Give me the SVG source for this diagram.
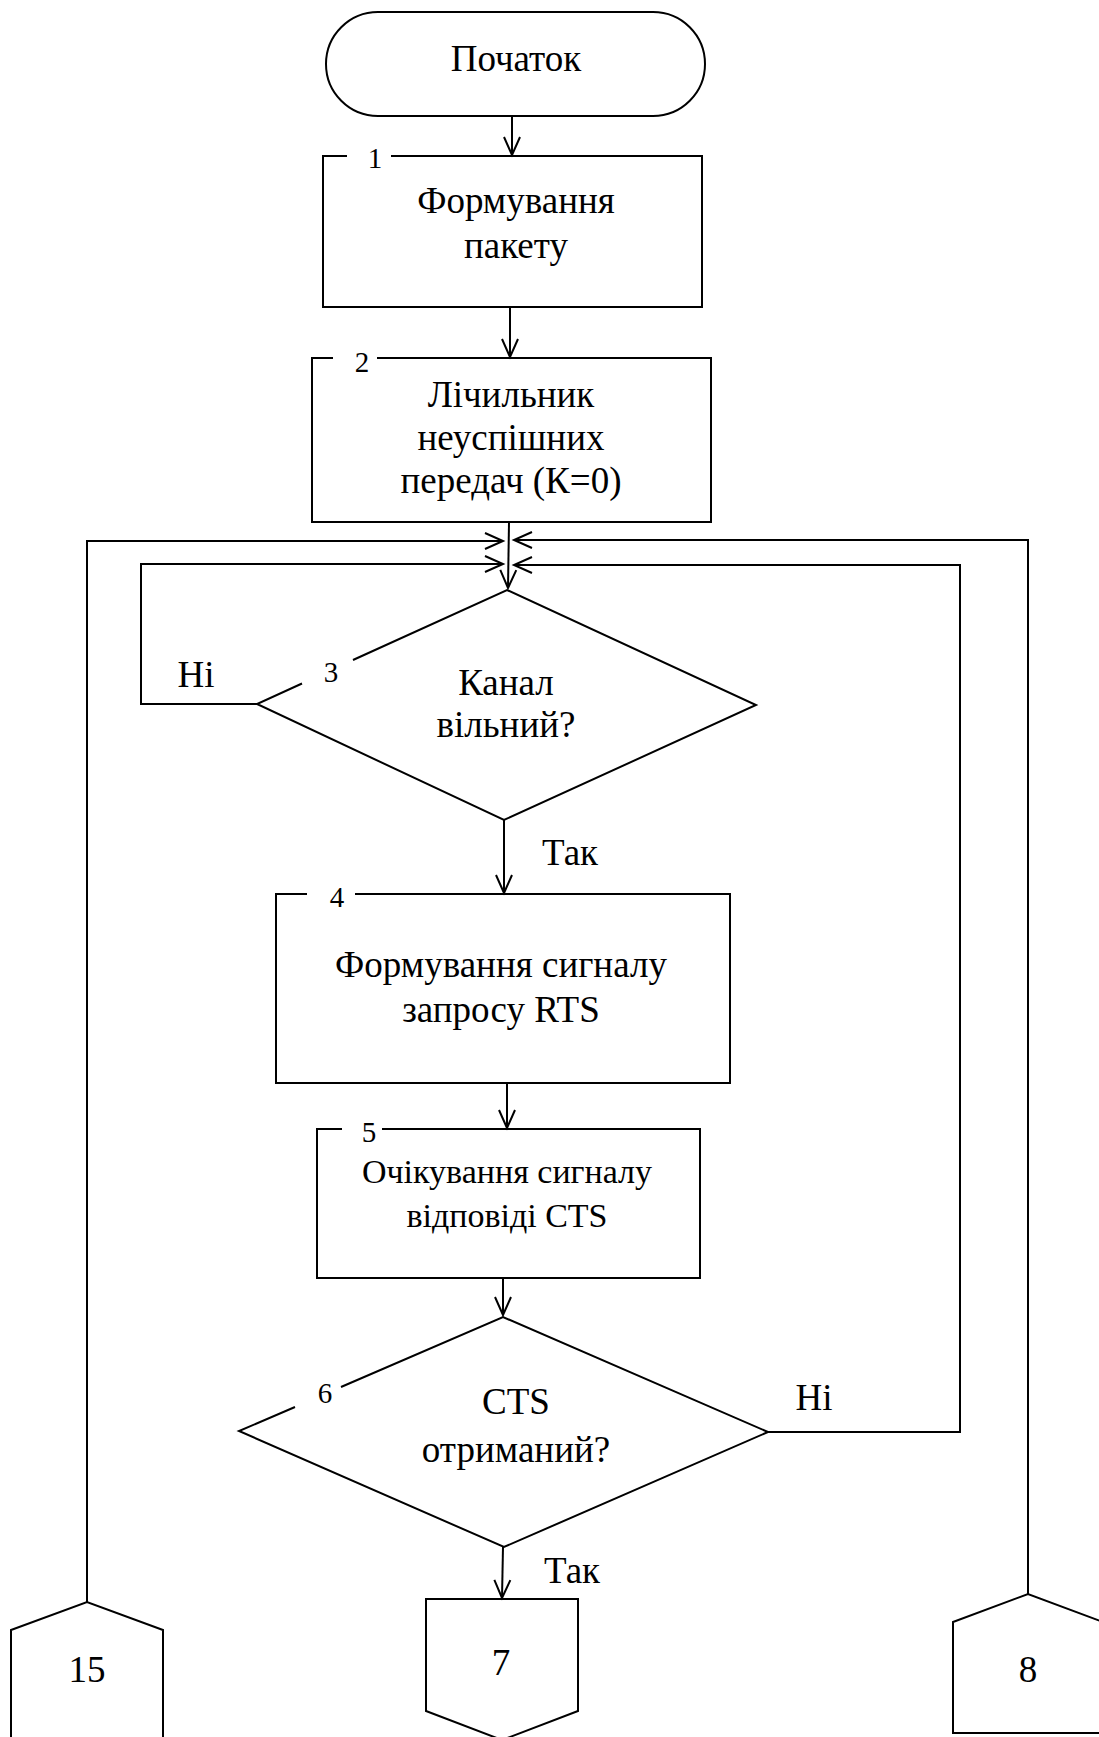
<svg xmlns="http://www.w3.org/2000/svg" width="1099" height="1737" viewBox="0 0 1099 1737">
<style>
.s{fill:none;stroke:#000;stroke-width:2;stroke-linejoin:miter}
.c{fill:none;stroke:#000;stroke-width:2}
.t{font-family:"Liberation Serif","Times New Roman",serif;font-size:37px;fill:#000;text-anchor:middle}
.t5{font-family:"Liberation Serif","Times New Roman",serif;font-size:34px;fill:#000;text-anchor:middle}
.n{font-family:"Liberation Serif","Times New Roman",serif;font-size:29px;fill:#000;text-anchor:middle}
</style>
<defs>
<marker id="a" viewBox="-20 -10 22 20" refX="0" refY="0" markerWidth="22" markerHeight="20" markerUnits="userSpaceOnUse" orient="auto" overflow="visible">
<path d="M-18,-8 L0,0 L-18,8" fill="none" stroke="#000" stroke-width="2"/>
</marker>
</defs>
<rect width="1099" height="1737" fill="#fff"/>

<g id="start">
<rect class="s" x="326" y="12" width="379" height="104" rx="52" ry="52"/>
<text class="t" x="516" y="71">Початок</text>
</g>

<g id="n1">
<path class="s" d="M347,156 L323,156 L323,307 L702,307 L702,156 L391,156"/>
<text class="n" x="375" y="168">1</text>
<text class="t" x="516" y="213">Формування</text>
<text class="t" x="516" y="258">пакету</text>
</g>

<g id="n2">
<path class="s" d="M333,358 L312,358 L312,522 L711,522 L711,358 L377,358"/>
<text class="n" x="362" y="372">2</text>
<text class="t" x="511" y="407">Лічильник</text>
<text class="t" x="511" y="450">неуспішних</text>
<text class="t" x="511" y="493">передач (К=0)</text>
</g>

<g id="n3">
<path class="s" d="M353,660 L507,590 L756,705 L504,820 L257,704 L302,683.5"/>
<text class="n" x="331" y="682">3</text>
<text class="t" x="506" y="695">Канал</text>
<text class="t" x="506" y="737">вільний?</text>
</g>

<g id="n4">
<path class="s" d="M307,894 L276,894 L276,1083 L730,1083 L730,894 L355,894"/>
<text class="n" x="337" y="907">4</text>
<text class="t" x="501" y="977">Формування сигналу</text>
<text class="t" x="501" y="1022">запросу RTS</text>
</g>

<g id="n5">
<path class="s" d="M342,1129 L317,1129 L317,1278 L700,1278 L700,1129 L382,1129"/>
<text class="n" x="369" y="1142">5</text>
<text class="t5" x="507" y="1183">Очікування сигналу</text>
<text class="t5" x="507" y="1227">відповіді CTS</text>
</g>

<g id="n6">
<path class="s" d="M341,1387 L503,1317 L768,1432 L504,1547 L239,1431 L295,1407"/>
<text class="n" x="325" y="1403">6</text>
<text class="t" x="516" y="1414">CTS</text>
<text class="t" x="516" y="1462">отриманий?</text>
</g>

<g id="n7">
<path class="s" d="M426,1599 L578,1599 L578,1711 L502,1740 L426,1711 Z"/>
<text class="t" x="501" y="1675">7</text>
</g>

<g id="n15">
<path class="s" d="M11,1745 L11,1630 L87,1602 L163,1630 L163,1745"/>
<text class="t" x="87" y="1682">15</text>
</g>

<g id="n8">
<path class="s" d="M953,1733 L953,1622 L1028,1594 L1103,1622 L1103,1733 Z"/>
<text class="t" x="1028" y="1682">8</text>
</g>

<g id="connectors">
<line class="c" x1="512" y1="116" x2="512" y2="155" marker-end="url(#a)"/>
<line class="c" x1="510" y1="307" x2="510" y2="357" marker-end="url(#a)"/>
<line class="c" x1="509" y1="522" x2="508" y2="588" marker-end="url(#a)"/>
<polyline class="c" points="87,1602 87,541 503,541" marker-end="url(#a)"/>
<polyline class="c" points="257,704 141,704 141,564 503,564" marker-end="url(#a)"/>
<polyline class="c" points="1028,1594 1028,540 514,540" marker-end="url(#a)"/>
<polyline class="c" points="768,1432 960,1432 960,565 514,565" marker-end="url(#a)"/>
<line class="c" x1="504" y1="820" x2="504" y2="893" marker-end="url(#a)"/>
<text class="t" x="570" y="865">Так</text>
<line class="c" x1="507" y1="1083" x2="507" y2="1128" marker-end="url(#a)"/>
<line class="c" x1="503" y1="1278" x2="503" y2="1315" marker-end="url(#a)"/>
<line class="c" x1="503" y1="1547" x2="502" y2="1598" marker-end="url(#a)"/>
<text class="t" x="572" y="1583">Так</text>
<text class="t" x="196" y="687">Ні</text>
<text class="t" x="814" y="1410">Ні</text>
</g>
</svg>
